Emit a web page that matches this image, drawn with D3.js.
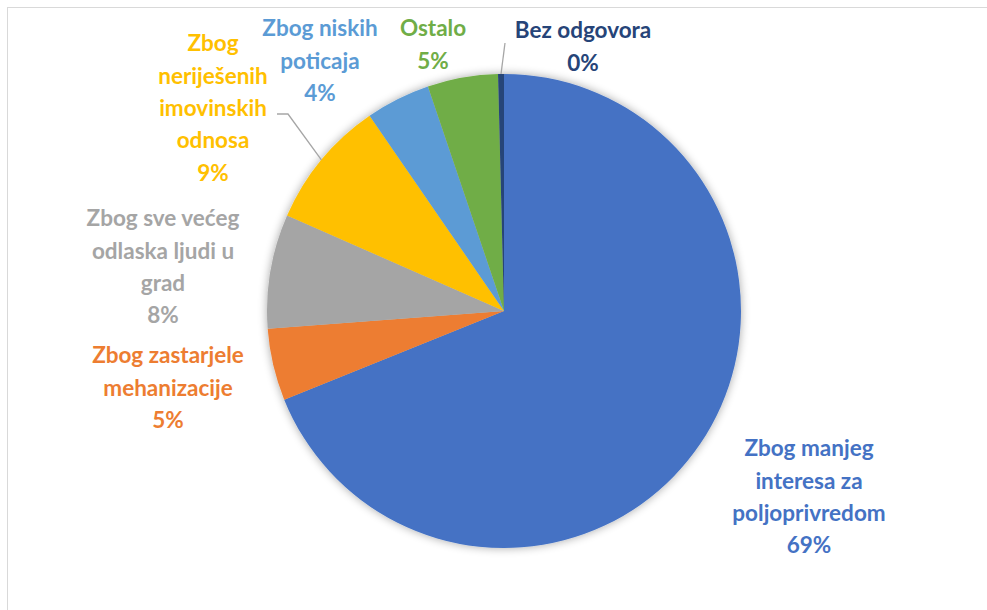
<!DOCTYPE html>
<html>
<head>
<meta charset="utf-8">
<script src="https://cdn.jsdelivr.net/npm/d3@7/dist/d3.min.js"></script>
<style>
  html, body { margin: 0; padding: 0; background: #fff; }
  svg { display: block; }
</style>
</head>
<body>
<svg id="chart" width="987" height="610"></svg>
<script>
// ---- data ----
const categories = [
  "Zbog manjeg interesa za poljoprivredom",
  "Zbog zastarjele mehanizacije",
  "Zbog sve većeg odlaska ljudi u grad",
  "Zbog neriješenih imovinskih odnosa",
  "Zbog niskih poticaja",
  "Ostalo",
  "Bez odgovora"
];
const values = [68.9, 4.9, 7.8, 8.8, 4.4, 4.8, 0.4];
const colors = ["#4472C4", "#ED7D31", "#A5A5A5", "#FFC000", "#5B9BD5", "#70AD47", "#264478"];

// label layout (line breaks and positions, not data)
const labelLines = [
  ["Zbog manjeg", "interesa za", "poljoprivredom"],
  ["Zbog zastarjele", "mehanizacije"],
  ["Zbog sve većeg", "odlaska ljudi u", "grad"],
  ["Zbog", "neriješenih", "imovinskih", "odnosa"],
  ["Zbog niskih", "poticaja"],
  ["Ostalo"],
  ["Bez odgovora"]
];
const labelPos = [
  {x: 809, y: 448}, {x: 168, y: 355}, {x: 163, y: 218}, {x: 213, y: 43},
  {x: 320, y: 28}, {x: 433, y: 28}, {x: 583, y: 30}
];
const lineH = 32.4;

const svg = d3.select("#chart");
const cx = 504, cy = 311, R = 237;

// chart frame
svg.append("rect").attr("x", 7.5).attr("y", 7.5).attr("width", 1100).attr("height", 800)
  .attr("fill", "#fff").attr("stroke", "#d9d9d9").attr("stroke-width", 1);

const defs = svg.append("defs");
const f = defs.append("filter").attr("id", "shadow").attr("x", "-20%").attr("y", "-20%").attr("width", "140%").attr("height", "140%");
f.append("feGaussianBlur").attr("in", "SourceAlpha").attr("stdDeviation", 5).attr("result", "blur");
f.append("feComponentTransfer").attr("in", "blur").attr("result", "sh")
  .append("feFuncA").attr("type", "linear").attr("slope", 0.35);
const m = f.append("feMerge");
m.append("feMergeNode").attr("in", "sh");
m.append("feMergeNode").attr("in", "SourceGraphic");

const pie = d3.pie().sort(null).value(d => d)(values);
const arc = d3.arc().innerRadius(0).outerRadius(R);

const g = svg.append("g").attr("transform", `translate(${cx},${cy})`).attr("filter", "url(#shadow)");
g.selectAll("path").data(pie).join("path")
  .attr("d", arc)
  .attr("fill", (d, i) => colors[i]);

// leader lines
const leader = d3.line();
const pt = (a, r) => [cx + r * Math.sin(a), cy - r * Math.cos(a)];
const yellowArc = pie[3];
const yMid = (yellowArc.startAngle + yellowArc.endAngle) / 2;
const yEnd = pt(yMid, R);
svg.append("path").attr("d", leader([[277, 114], [288, 114], yEnd]))
  .attr("fill", "none").attr("stroke", "#a6a6a6").attr("stroke-width", 1.3);
const navyArc = pie[6];
const nMid = (navyArc.startAngle + navyArc.endAngle) / 2;
const nEnd = pt(nMid, R);
svg.append("path").attr("d", leader([[505, 43], nEnd]))
  .attr("fill", "none").attr("stroke", "#a6a6a6").attr("stroke-width", 1.3);

// labels
const fmt = v => Math.round(v) + "%";
const labels = svg.append("g")
  .attr("font-family", "Lato, 'Open Sans', sans-serif")
  .attr("font-weight", "bold")
  .attr("font-size", 22.5)
  .attr("text-anchor", "middle");
labelLines.forEach((lines, i) => {
  const t = labels.append("text").attr("fill", colors[i]);
  const all = lines.concat([fmt(values[i])]);
  all.forEach((ln, j) => {
    t.append("tspan").attr("x", labelPos[i].x).attr("y", labelPos[i].y + j * lineH)
      .attr("dy", "0.36em").text(ln);
  });
});
</script>
</body>
</html>
